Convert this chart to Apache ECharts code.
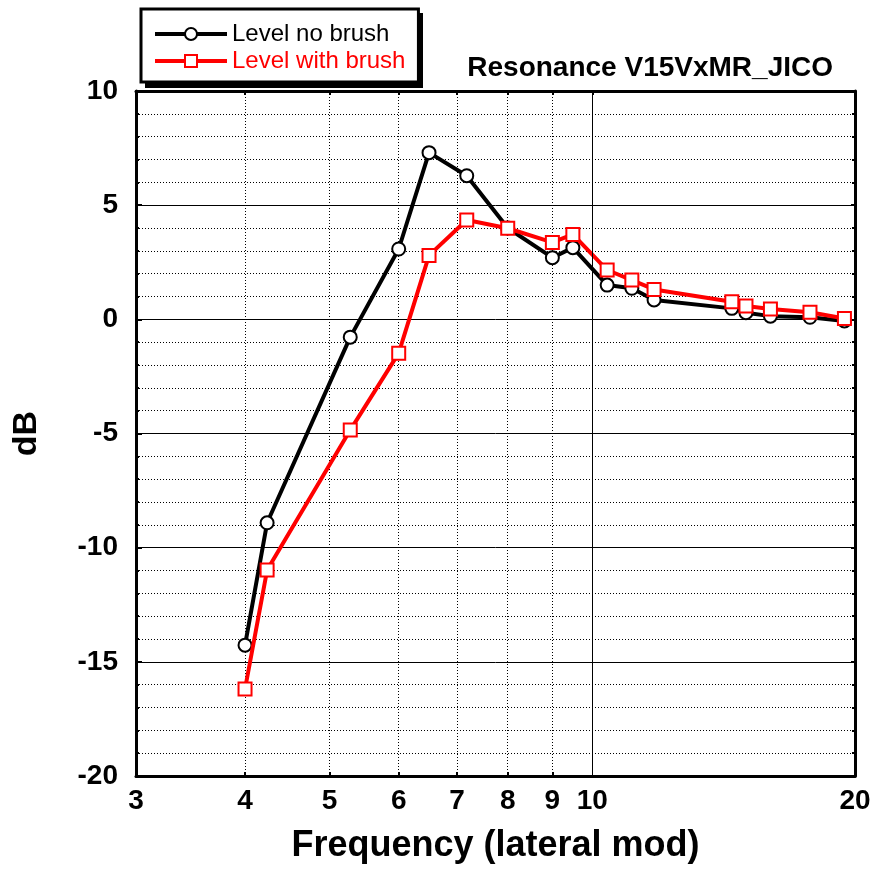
<!DOCTYPE html>
<html>
<head>
<meta charset="utf-8">
<script src="https://cdn.jsdelivr.net/npm/echarts@6/dist/echarts.min.js"></script>
<style>html,body{margin:0;padding:0;background:#fff;}#c{width:880px;height:874px;}</style>
</head>
<body>
<div id="c"></div>
<script>
var freq = [4.0, 4.24, 5.28, 6.0, 6.5, 7.18, 8.0, 9.0, 9.5, 10.4, 11.1, 11.77, 14.45, 15.0, 16.0, 17.76, 19.45];
var levelNoBrush = [-14.27, -8.91, -0.78, 3.08, 7.30, 6.29, 4.0, 2.70, 3.14, 1.50, 1.36, 0.85, 0.48, 0.29, 0.14, 0.09, -0.07];
var levelWithBrush = [-16.19, -10.98, -4.85, -1.48, 2.80, 4.35, 3.99, 3.37, 3.72, 2.16, 1.72, 1.31, 0.77, 0.58, 0.45, 0.31, 0.04];
var xLabelValues = [3, 4, 5, 6, 7, 8, 9, 10, 20];
var xTickValues = [4, 5, 6, 7, 8, 9];
var seriesNames = ['Level no brush', 'Level with brush'];
var titleText = 'Resonance V15VxMR_JICO';
var xName = 'Frequency (lateral mod)';
var yName = 'dB';

function pairs(xs, ys) { return xs.map(function (x, i) { return [x, ys[i]]; }); }

var FONT = 'Liberation Sans, Arial, sans-serif';
var chart = echarts.init(document.getElementById('c'), null, { renderer: 'canvas' });
chart.setOption({
  animation: false,
  backgroundColor: '#fff',
  graphic: [{
    type: 'rect', left: 145, top: 13, z: -1,
    shape: { width: 278, height: 75 },
    style: { fill: '#000' }
  }],
  title: {
    text: titleText, right: 47, top: 54, padding: 0,
    textStyle: { fontFamily: FONT, fontWeight: 'bold', fontSize: 28, color: '#000' }
  },
  legend: {
    left: 141, top: 9, orient: 'vertical',
    padding: [13, 13, 9, 12],
    itemWidth: 72, itemHeight: 15, itemGap: 3,
    backgroundColor: '#fff', borderColor: '#000', borderWidth: 3,
    lineStyle: { width: 4 },
    textStyle: { fontFamily: FONT, fontSize: 24, padding: [0, 0, 0, 0] },
    data: [
      { name: seriesNames[0], textStyle: { color: '#000' } },
      { name: seriesNames[1], textStyle: { color: '#f00' } }
    ]
  },
  grid: { left: 136, right: 25, top: 91, bottom: 98, containLabel: false },
  xAxis: [{
    type: 'log', logBase: 10, min: 3, max: 20, position: 'bottom',
    name: xName, nameLocation: 'middle', nameGap: 52,
    nameTextStyle: { fontFamily: FONT, fontWeight: 'bold', fontSize: 36, color: '#000' },
    axisLine: { show: true, onZero: false, lineStyle: { color: '#000', width: 3 } },
    axisTick: { show: true, inside: true, length: 4, customValues: xTickValues, lineStyle: { color: '#000', width: 2 } },
    axisLabel: { show: true, customValues: xLabelValues, margin: 11, fontFamily: FONT, fontWeight: 'bold', fontSize: 28, color: '#000' },
    splitLine: { show: true, lineStyle: { color: '#000', width: 1, type: [1, 2] } },
    minorTick: { show: false }, minorSplitLine: { show: false }
  }, {
    type: 'log', logBase: 10, min: 3, max: 20, position: 'top',
    axisLine: { show: true, onZero: false, lineStyle: { color: '#000', width: 3 } },
    axisTick: { show: true, inside: true, length: 4, customValues: [4, 5, 6, 7, 8, 9, 10], lineStyle: { color: '#000', width: 2 } },
    axisLabel: { show: false },
    splitLine: { show: false }
  }],
  yAxis: [{
    type: 'value', min: -20, max: 10, interval: 5, position: 'left',
    name: yName, nameLocation: 'middle', nameGap: 92, nameRotate: 90,
    nameTextStyle: { fontFamily: FONT, fontWeight: 'bold', fontSize: 34, color: '#000' },
    axisLine: { show: true, onZero: false, lineStyle: { color: '#000', width: 3 } },
    axisTick: { show: true, inside: true, length: 6, lineStyle: { color: '#000', width: 2 } },
    axisLabel: { margin: 18, fontFamily: FONT, fontWeight: 'bold', fontSize: 28, color: '#000' },
    splitLine: { show: true, lineStyle: { color: '#000', width: 1 } },
    minorTick: { show: true, splitNumber: 5, length: 3, lineStyle: { color: '#000', width: 2 } },
    minorSplitLine: { show: true, lineStyle: { color: '#000', width: 1, type: [1, 2] } }
  }, {
    type: 'value', min: -20, max: 10, interval: 5, position: 'right',
    axisLine: { show: true, onZero: false, lineStyle: { color: '#000', width: 3 } },
    axisTick: { show: true, inside: true, length: 4, lineStyle: { color: '#000', width: 2 } },
    minorTick: { show: true, splitNumber: 5, length: 3, lineStyle: { color: '#000', width: 2 } },
    axisLabel: { show: false },
    splitLine: { show: false }
  }],
  series: [{
    name: seriesNames[0], type: 'line', xAxisIndex: 0, yAxisIndex: 0,
    data: pairs(freq, levelNoBrush),
    symbol: 'emptyCircle', symbolSize: 13, z: 3,
    lineStyle: { color: '#000', width: 4 },
    itemStyle: { color: '#000', borderWidth: 1 },
    markLine: {
      silent: true, symbol: 'none', label: { show: false },
      lineStyle: { color: '#000', width: 1, type: 'solid' },
      data: [{ xAxis: 10 }]
    }
  }, {
    name: seriesNames[1], type: 'line', xAxisIndex: 0, yAxisIndex: 0,
    data: pairs(freq, levelWithBrush),
    symbol: 'emptyRect', symbolSize: 13, z: 4,
    lineStyle: { color: '#f00', width: 4 },
    itemStyle: { color: '#f00', borderWidth: 1 }
  }]
});
</script>
</body>
</html>
